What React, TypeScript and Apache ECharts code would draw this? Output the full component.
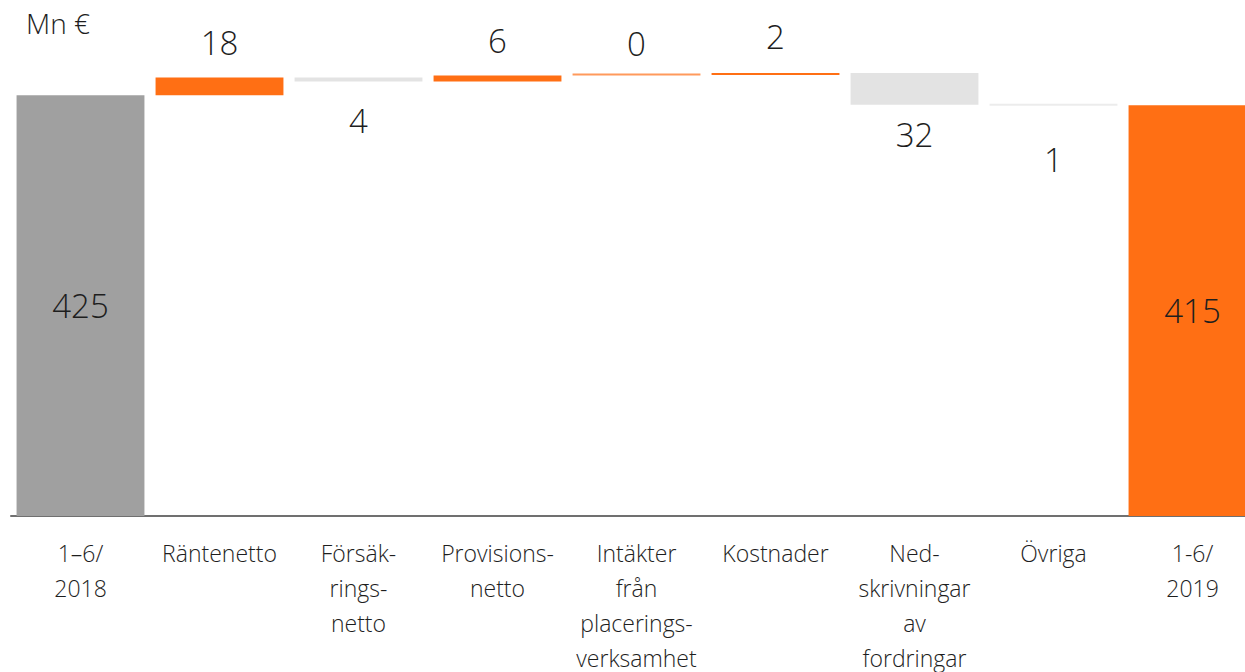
import React, { useEffect, useRef } from "react";
import * as echarts from "echarts";

const categories = [
  "1–6/\n2018",
  "Räntenetto",
  "Försäk-\nrings-\nnetto",
  "Provisions-\nnetto",
  "Intäkter\nfrån\nplacerings-\nverksamhet",
  "Kostnader",
  "Ned-\nskrivningar\nav\nfordringar",
  "Övriga",
  "1-6/\n2019",
];
const startValue = 425;
const deltas = [18, -4, 6, 0.4, 2, -32, -1];
const endValue = 415;

const ORANGE = "#ff6f14";
const START_GREY = "#a0a0a0";
const NEG_GREY = "#e3e3e3";
const TEXT = "#1e1e1e";
const FONT = "'Open Sans', 'Liberation Sans', sans-serif";
const labelDistances = [0, 18, 23, 18, 13, 20, 13, 37, 0];

export default function App() {
  const ref = useRef<HTMLDivElement>(null);
  useEffect(() => {
    if (!ref.current) return;
    const chart = echarts.init(ref.current, null, { renderer: "svg" });

    const base: number[] = [0];
    const heights: any[] = [];
    heights.push({
      value: startValue,
      itemStyle: { color: START_GREY },
      label: { position: "inside" },
    });
    let running = startValue;
    deltas.forEach((d, i) => {
      base.push(d >= 0 ? running : running + d);
      running += d;
      const isLast = i === deltas.length - 1;
      heights.push({
        value: Math.abs(d),
        itemStyle: { color: d >= 0 ? (d < 1 ? "#ff9a5c" : ORANGE) : isLast ? "#ececec" : NEG_GREY },
        label: {
          position: d >= 0 ? "top" : "bottom",
          distance: labelDistances[i + 1],
        },
      });
    });
    base.push(0);
    heights.push({
      value: endValue,
      itemStyle: { color: ORANGE },
      label: { position: "inside" },
    });
    const labelTexts = [startValue, ...deltas, endValue].map((v) =>
      String(Math.round(Math.abs(v)))
    );

    chart.setOption({
      animation: false,
      title: {
        text: "Mn €",
        left: 21,
        top: 4,
        textStyle: { fontFamily: FONT, fontSize: 28, fontWeight: 300, color: TEXT },
      },
      grid: { left: 11, top: 21, width: 1251, height: 495, outerBoundsMode: "none", containLabel: false },
      xAxis: {
        type: "category",
        data: categories,
        axisLine: { lineStyle: { color: "#707070", width: 2 } },
        axisTick: { show: false },
        axisLabel: {
          interval: 0,
          fontFamily: FONT,
          fontSize: 23,
          fontWeight: 300,
          lineHeight: 35,
          color: TEXT,
          margin: 19,
        },
      },
      yAxis: { type: "value", min: 0, max: 500, show: false },
      series: [
        {
          type: "bar",
          stack: "w",
          data: base,
          barWidth: "92%",
          itemStyle: { color: "transparent" },
          silent: true,
        },
        {
          type: "bar",
          stack: "w",
          data: heights,
          barWidth: "92%",
          barMinHeight: 2,
          label: {
            show: true,
            fontFamily: FONT,
            fontSize: 33,
            fontWeight: 300,
            color: TEXT,
            formatter: (p: any) => labelTexts[p.dataIndex],
          },
        },
      ],
    });
    return () => chart.dispose();
  }, []);
  return (
    <div style={{ position: "absolute", left: 0, top: 0, width: 1245, height: 672, overflow: "hidden", background: "#fff" }}>
      <div ref={ref} style={{ width: 1265, height: 672 }} />
    </div>
  );
}
